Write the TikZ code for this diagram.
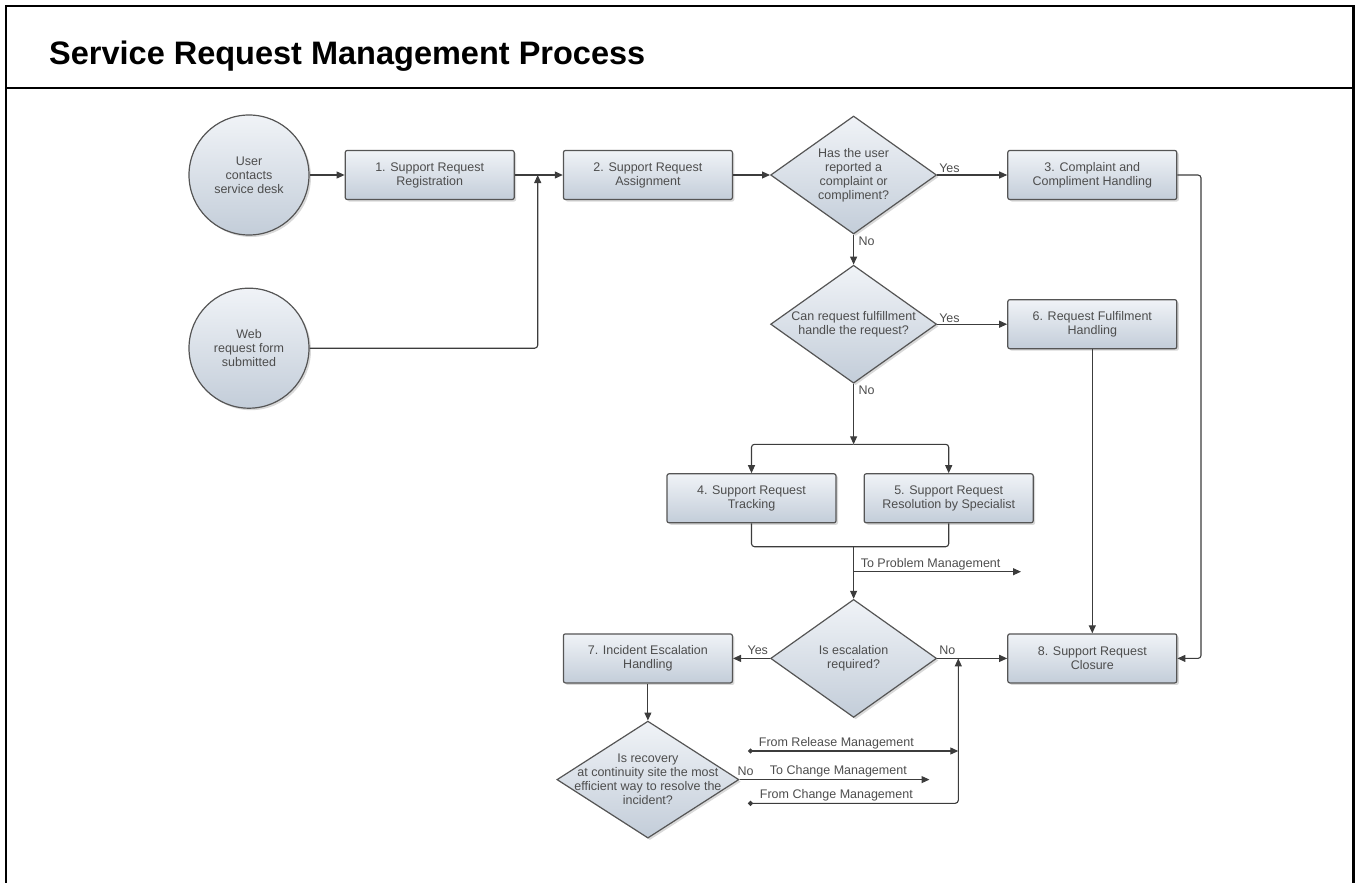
\documentclass[tikz,border=0pt]{standalone}
\usepackage{fontspec}
\setmainfont{Liberation Sans}
\usepackage{tikz}
\usetikzlibrary{shapes, arrows.meta, positioning,
                shapes.geometric,
                shadows
                }

\definecolor{FillTop}{HTML}{F0F3F7}
\definecolor{FillBottom}{HTML}{C3CDD9}
\definecolor{EdgeGray}{HTML}{555555}
\definecolor{WireGray}{HTML}{3C3C3C}
\definecolor{TextGray}{HTML}{4D4D4D}

\begin{document}
\begin{tikzpicture}
[x=1pt, y=-1pt,
>={Triangle[length=8pt, width=7pt]},
every node/.style={font=\fontsize{12.5}{14}\selectfont, text=TextGray},
StepNode/.style={rectangle, rounded corners=2pt, draw=EdgeGray, line width=1.2pt,
minimum width=169pt, minimum height=49pt, align=center,
top color=FillTop, bottom color=FillBottom,
drop shadow={shadow xshift=2pt, shadow yshift=-2pt, opacity=0.3}},
StartNode/.style={circle, draw=EdgeGray, line width=1.2pt, minimum size=120pt,
inner sep=0pt, align=center, top color=FillTop, bottom color=FillBottom,
drop shadow={shadow xshift=2pt, shadow yshift=-2pt, opacity=0.3}},
DecisionNode/.style={diamond, draw=EdgeGray, line width=1.2pt, inner sep=0pt,
minimum width=166pt, minimum height=118pt,
top color=FillTop, bottom color=FillBottom,
drop shadow={shadow xshift=2pt, shadow yshift=-2pt, opacity=0.3}},
DecisionText/.style={align=center, inner sep=0pt},
FlowLabel/.style={inner sep=1.5pt},
Wire/.style={draw=WireGray, line width=1.1pt, rounded corners=3pt}
]

\useasboundingbox (0,0) rectangle (1355,883);
\draw[line width=2.3pt] (6,884) -- (6,6) -- (1353.5,6) -- (1353.5,884);
\draw[line width=2.3pt] (6,88) -- (1353.5,88);
\node[anchor=base west, inner sep=0pt, text=black,
  font=\fontsize{32.5}{38}\selectfont\bfseries] (Title) at (49,65)
  {Service Request Management Process};

\node[StartNode] (UserDesk) at (249,175) {User\\contacts\\service desk};
\node[StartNode] (WebForm) [below=52pt of UserDesk] {Web\\request form\\submitted};
\node[StepNode] (Registration) [right=35pt of UserDesk] {1. Support Request\\Registration};
\node[StepNode] (Assignment) [right=48pt of Registration] {2. Support Request\\Assignment};
\node[DecisionNode, label={[DecisionText]center:Has the user\\reported a\\complaint or\\compliment?}]
  (Complaint) [right=37pt of Assignment] {};
\node[StepNode] (ComplaintHandling) [right=70pt of Complaint] {3. Complaint and\\Compliment Handling};
\node[DecisionNode, label={[DecisionText]center:Can request fulfillment\\handle the request?}]
  (Fulfilment) [below=30pt of Complaint] {};
\node[StepNode] (FulfilmentHandling) [right=70pt of Fulfilment] {6. Request Fulfilment\\Handling};
\node[StepNode] (Tracking) at (751.5,498.3) {4. Support Request\\Tracking};
\node[StepNode] (Resolution) [right=27pt of Tracking] {5. Support Request\\Resolution by Specialist};
\node[DecisionNode, label={[DecisionText]center:Is escalation\\required?}]
  (Escalation) [below=215pt of Fulfilment] {};
\node[StepNode] (IncidentHandling) [left=37pt of Escalation] {7. Incident Escalation\\Handling};
\node[StepNode] (Closure) [right=70pt of Escalation] {8. Support Request\\Closure};
\node[DecisionNode, minimum width=182pt, minimum height=117pt,
  label={[DecisionText]center:Is recovery\\at continuity site the most\\efficient way to resolve the\\incident?}]
  (Recovery) [below=37pt of IncidentHandling] {};

\coordinate (WebJoin) at (537.7,175);
\coordinate (RightRail) at (1201,175);
\coordinate (Split) at (Fulfilment |- 0,444.3);
\coordinate (Merge) at (Fulfilment |- 0,546.7);
\coordinate (ProblemOut) at (1021,571.7);
\coordinate (NoJoin) at (958.3,0 |- Escalation);
\coordinate (ReleaseIn) at (748,751);
\coordinate (ChangeIn) at (748,803.3);
\coordinate (ChangeOut) at ([xshift=190pt]Recovery.east);

\draw[Wire,->] (UserDesk) -- (Registration);
\draw[Wire,->] (Registration) -- (Assignment);
\draw[Wire,->] (WebForm) -| (WebJoin);
\draw[Wire,->] (Assignment) -- (Complaint);
\draw[Wire,->] (Complaint) -- node[FlowLabel, pos=0, anchor=south west]{Yes} (ComplaintHandling);
\draw[Wire,->] (Complaint) -- node[FlowLabel, pos=0, anchor=north west, xshift=3pt]{No} (Fulfilment);
\draw[Wire,->] (ComplaintHandling.east) -- (RightRail) |- (Closure);

\draw[Wire,->] (Fulfilment) -- node[FlowLabel, pos=0, anchor=south west]{Yes} (FulfilmentHandling);
\draw[Wire,->] (Fulfilment) -- node[FlowLabel, pos=0, anchor=north west, xshift=3pt]{No} (Split);
\draw[Wire,->] (FulfilmentHandling) -- (Closure);
\draw[Wire,->] (Split) -| (Tracking);
\draw[Wire,->] (Split) -| (Resolution);

\draw[Wire] (Tracking) |- (Merge) -| (Resolution);
\draw[Wire,->] (Merge) -- (Escalation);
\draw[Wire,->] (Merge |- ProblemOut) -- node[FlowLabel, above, pos=0.46]{To Problem Management} (ProblemOut);

\draw[Wire,->] (Escalation) -- node[FlowLabel, pos=0, anchor=south east, yshift=2pt]{Yes} (IncidentHandling);
\draw[Wire,->] (Escalation) -- node[FlowLabel, pos=0, anchor=south west, yshift=2pt]{No} (Closure);
\draw[Wire,->] (IncidentHandling) -- (Recovery);
\draw[Wire,->] (Recovery) -- node[FlowLabel, pos=0, anchor=south west, xshift=-4pt, yshift=2pt]{No}
  node[FlowLabel, above, pos=0.52]{To Change Management} (ChangeOut);

\draw[Wire,{Circle[length=5pt]}->] (ReleaseIn) -- node[FlowLabel, above, pos=0.42]{From Release Management} (ReleaseIn -| NoJoin);
\draw[Wire,{Circle[length=5pt]}->] (ChangeIn) -- node[FlowLabel, above, pos=0.42]{From Change Management} (ChangeIn -| NoJoin) -- (NoJoin);
\end{tikzpicture}
\end{document}
